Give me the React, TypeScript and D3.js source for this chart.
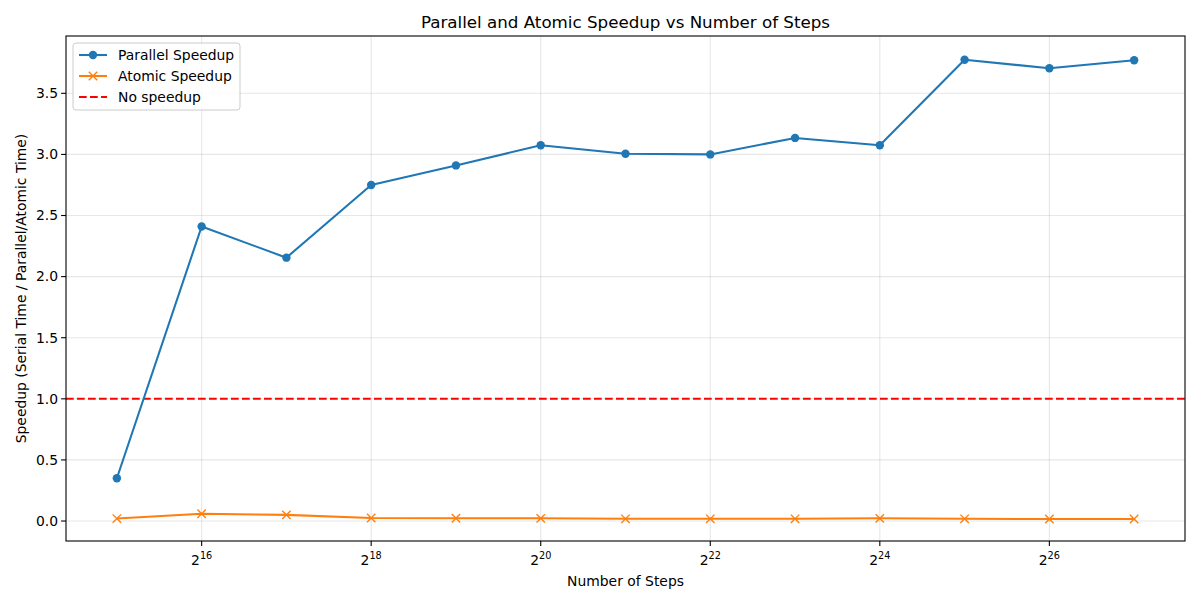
import React from "react";
import * as d3 from "d3";

const exponents = [15, 16, 17, 18, 19, 20, 21, 22, 23, 24, 25, 26, 27];
const parallelSpeedup = [0.35, 2.41, 2.155, 2.75, 2.91, 3.075, 3.005, 3.0, 3.135, 3.075, 3.775, 3.705, 3.77];
const atomicSpeedup = [0.02, 0.06, 0.05, 0.025, 0.023, 0.022, 0.018, 0.018, 0.018, 0.022, 0.018, 0.016, 0.016];
const xTickExps = [16, 18, 20, 22, 24, 26];
const yTicks = [0, 0.5, 1.0, 1.5, 2.0, 2.5, 3.0, 3.5];

const W = 1200, H = 600;
const M = { left: 66, right: 1185, top: 36, bottom: 541 };
const FONT = "DejaVu Sans, sans-serif";
const BLUE = "#1f77b4", ORANGE = "#ff7f0e";
const LW = 2.08;
const DASH = "7.7,3.3";

export default function App() {
  const x = d3.scaleLog().base(2).domain([Math.pow(2, 14.4), Math.pow(2, 27.6)]).range([M.left, M.right]);
  const y = d3.scaleLinear().domain([-0.1635, 3.969]).range([M.bottom, M.top]);
  const xs = exponents.map((e) => Math.pow(2, e));
  const line = d3.line<number>().x((_, i) => x(xs[i])).y((d) => y(d));

  const cross = (cx: number, cy: number, k: string) => (
    <g key={k} stroke={ORANGE} strokeWidth={1.4}>
      <line x1={cx - 4.2} y1={cy - 4.2} x2={cx + 4.2} y2={cy + 4.2} />
      <line x1={cx - 4.2} y1={cy + 4.2} x2={cx + 4.2} y2={cy - 4.2} />
    </g>
  );

  return (
    <svg width={W} height={H} style={{ position: "absolute", left: 0, top: 0, background: "#fff" }} fontFamily={FONT}>
      <rect x={0} y={0} width={W} height={H} fill="#fff" />
      {/* grid */}
      {xTickExps.map((e) => (
        <line key={"gx" + e} x1={x(Math.pow(2, e))} x2={x(Math.pow(2, e))} y1={M.top} y2={M.bottom} stroke="#b0b0b0" strokeOpacity={0.3} strokeWidth={1.1} />
      ))}
      {yTicks.map((t) => (
        <line key={"gy" + t} x1={M.left} x2={M.right} y1={y(t)} y2={y(t)} stroke="#b0b0b0" strokeOpacity={0.3} strokeWidth={1.1} />
      ))}
      {/* no speedup line */}
      <line x1={M.left} x2={M.right} y1={y(1)} y2={y(1)} stroke="red" strokeWidth={LW} strokeDasharray={DASH} />
      {/* parallel */}
      <path d={line(parallelSpeedup) || ""} fill="none" stroke={BLUE} strokeWidth={LW} strokeLinejoin="round" />
      {parallelSpeedup.map((v, i) => (
        <circle key={"p" + i} cx={x(xs[i])} cy={y(v)} r={4.2} fill={BLUE} />
      ))}
      {/* atomic */}
      <path d={line(atomicSpeedup) || ""} fill="none" stroke={ORANGE} strokeWidth={LW} strokeLinejoin="round" />
      {atomicSpeedup.map((v, i) => cross(x(xs[i]), y(v), "a" + i))}
      {/* axes frame */}
      <rect x={M.left} y={M.top} width={M.right - M.left} height={M.bottom - M.top} fill="none" stroke="#000" strokeWidth={1.1} />
      {/* x ticks */}
      {xTickExps.map((e) => {
        const px = x(Math.pow(2, e));
        return (
          <g key={"xt" + e}>
            <line x1={px} x2={px} y1={M.bottom} y2={M.bottom + 4.9} stroke="#000" strokeWidth={1.1} />
            <text x={px} y={M.bottom + 24} textAnchor="middle" fontSize={13.9} fill="#000">
              2<tspan dy={-6} fontSize={9.7}>{e}</tspan>
            </text>
          </g>
        );
      })}
      {/* y ticks */}
      {yTicks.map((t) => (
        <g key={"yt" + t}>
          <line x1={M.left - 4.9} x2={M.left} y1={y(t)} y2={y(t)} stroke="#000" strokeWidth={1.1} />
          <text x={M.left - 8} y={y(t)} dy="0.35em" textAnchor="end" fontSize={13.9} fill="#000">{t.toFixed(1)}</text>
        </g>
      ))}
      {/* labels */}
      <text x={(M.left + M.right) / 2} y={586} textAnchor="middle" fontSize={13.9}>Number of Steps</text>
      <text transform={`translate(26,${(M.top + M.bottom) / 2}) rotate(-90)`} textAnchor="middle" fontSize={13.9}>Speedup (Serial Time / Parallel/Atomic Time)</text>
      <text x={(M.left + M.right) / 2} y={28} textAnchor="middle" fontSize={16.7}>Parallel and Atomic Speedup vs Number of Steps</text>
      {/* legend */}
      <g>
        <rect x={73} y={43} width={167} height={67} rx={3} fill="#fff" fillOpacity={0.8} stroke="#cccccc" strokeWidth={1} />
        <line x1={79} x2={107} y1={55} y2={55} stroke={BLUE} strokeWidth={LW} />
        <circle cx={93} cy={55} r={4.2} fill={BLUE} />
        <text x={118} y={55} dy="0.35em" fontSize={13.9}>Parallel Speedup</text>
        <line x1={79} x2={107} y1={76} y2={76} stroke={ORANGE} strokeWidth={LW} />
        {cross(93, 76, "lc")}
        <text x={118} y={76} dy="0.35em" fontSize={13.9}>Atomic Speedup</text>
        <line x1={79} x2={107} y1={97} y2={97} stroke="red" strokeWidth={LW} strokeDasharray={DASH} />
        <text x={118} y={97} dy="0.35em" fontSize={13.9}>No speedup</text>
      </g>
    </svg>
  );
}
